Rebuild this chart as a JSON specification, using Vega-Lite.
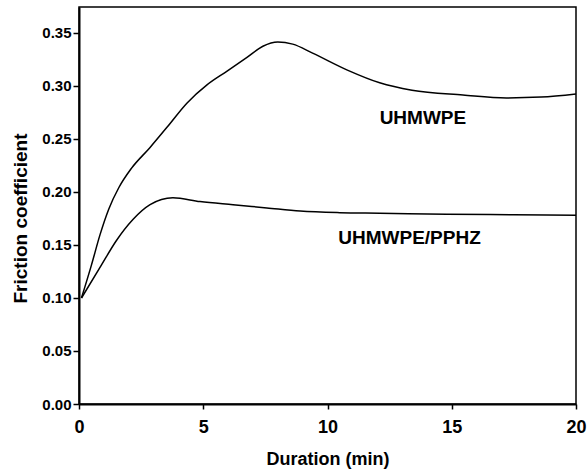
{
  "$schema": "https://vega.github.io/schema/vega-lite/v6.json",
  "autosize": {"type": "none"},
  "width": 497,
  "height": 397,
  "padding": {"left": 79, "top": 7, "right": 11, "bottom": 65},
  "background": "white",
  "config": {
    "view": {"stroke": "black", "strokeWidth": 1.5},
    "font": "Liberation Sans"
  },
  "datasets": {
    "curves": [
      {"series": "UHMWPE", "t": 0.1, "f": 0.100},
      {"series": "UHMWPE", "t": 0.5, "f": 0.131},
      {"series": "UHMWPE", "t": 0.85, "f": 0.160},
      {"series": "UHMWPE", "t": 1.2, "f": 0.184},
      {"series": "UHMWPE", "t": 1.6, "f": 0.204},
      {"series": "UHMWPE", "t": 2.1, "f": 0.222},
      {"series": "UHMWPE", "t": 2.86, "f": 0.242},
      {"series": "UHMWPE", "t": 3.54, "f": 0.261},
      {"series": "UHMWPE", "t": 4.35, "f": 0.284},
      {"series": "UHMWPE", "t": 5.15, "f": 0.301},
      {"series": "UHMWPE", "t": 5.96, "f": 0.314},
      {"series": "UHMWPE", "t": 6.76, "f": 0.327},
      {"series": "UHMWPE", "t": 7.4, "f": 0.3375},
      {"series": "UHMWPE", "t": 8.0, "f": 0.3415},
      {"series": "UHMWPE", "t": 8.6, "f": 0.3395},
      {"series": "UHMWPE", "t": 9.4, "f": 0.331},
      {"series": "UHMWPE", "t": 10.8, "f": 0.315},
      {"series": "UHMWPE", "t": 12.1, "f": 0.303},
      {"series": "UHMWPE", "t": 13.4, "f": 0.296},
      {"series": "UHMWPE", "t": 15.45, "f": 0.2915},
      {"series": "UHMWPE", "t": 17.2, "f": 0.2887},
      {"series": "UHMWPE", "t": 18.6, "f": 0.2895},
      {"series": "UHMWPE", "t": 20.0, "f": 0.2925},
      {"series": "UHMWPE/PPHZ", "t": 0.1, "f": 0.100},
      {"series": "UHMWPE/PPHZ", "t": 0.9, "f": 0.131},
      {"series": "UHMWPE/PPHZ", "t": 1.5, "f": 0.154},
      {"series": "UHMWPE/PPHZ", "t": 2.17, "f": 0.174},
      {"series": "UHMWPE/PPHZ", "t": 2.86, "f": 0.188},
      {"series": "UHMWPE/PPHZ", "t": 3.78, "f": 0.1945},
      {"series": "UHMWPE/PPHZ", "t": 4.87, "f": 0.191},
      {"series": "UHMWPE/PPHZ", "t": 6.2, "f": 0.188},
      {"series": "UHMWPE/PPHZ", "t": 7.56, "f": 0.185},
      {"series": "UHMWPE/PPHZ", "t": 8.9, "f": 0.182},
      {"series": "UHMWPE/PPHZ", "t": 10.5, "f": 0.1805},
      {"series": "UHMWPE/PPHZ", "t": 12.1, "f": 0.180},
      {"series": "UHMWPE/PPHZ", "t": 14.8, "f": 0.179},
      {"series": "UHMWPE/PPHZ", "t": 17.5, "f": 0.1785},
      {"series": "UHMWPE/PPHZ", "t": 20.0, "f": 0.178}
    ],
    "labels": [
      {"label": "UHMWPE", "t": 13.84, "f": 0.27},
      {"label": "UHMWPE/PPHZ", "t": 13.3, "f": 0.157}
    ]
  },
  "layer": [
    {
      "data": {"name": "curves"},
      "mark": {"type": "line", "color": "black", "strokeWidth": 1.5, "interpolate": "monotone", "clip": true},
      "encoding": {
        "x": {
          "field": "t", "type": "quantitative",
          "scale": {"domain": [0, 20], "nice": false, "zero": false},
          "axis": {
            "title": "Duration (min)",
            "values": [0, 5, 10, 15, 20],
            "format": "d",
            "grid": false,
            "domainColor": "black", "domainWidth": 2,
            "tickColor": "black", "tickWidth": 1.5, "tickSize": 5,
            "labelPadding": 9,
            "labelFont": "Liberation Sans", "labelFontSize": 18, "labelFontWeight": "bold", "labelColor": "black",
            "labelFlush": false,
            "titleFont": "Liberation Sans", "titleFontSize": 18, "titleFontWeight": "bold", "titleColor": "black",
            "titlePadding": 14
          }
        },
        "y": {
          "field": "f", "type": "quantitative",
          "scale": {"domain": [0, 0.3745], "nice": false, "zero": false},
          "axis": {
            "title": "Friction coefficient",
            "values": [0, 0.05, 0.1, 0.15, 0.2, 0.25, 0.3, 0.35],
            "format": ".2f",
            "grid": false,
            "domainColor": "black", "domainWidth": 2,
            "tickColor": "black", "tickWidth": 1.5, "tickSize": 6,
            "labelPadding": 2,
            "labelFont": "Liberation Sans", "labelFontSize": 15, "labelFontWeight": "bold", "labelColor": "black",
            "titleFont": "Liberation Sans", "titleFontSize": 19, "titleFontWeight": "bold", "titleColor": "black",
            "titlePadding": 11,
            "titleY": 211
          }
        },
        "detail": {"field": "series"}
      }
    },
    {
      "data": {"name": "labels"},
      "mark": {"type": "text", "font": "Liberation Sans", "fontSize": 19, "fontWeight": "bold", "color": "black"},
      "encoding": {
        "x": {"field": "t", "type": "quantitative"},
        "y": {"field": "f", "type": "quantitative"},
        "text": {"field": "label"}
      }
    }
  ]
}
